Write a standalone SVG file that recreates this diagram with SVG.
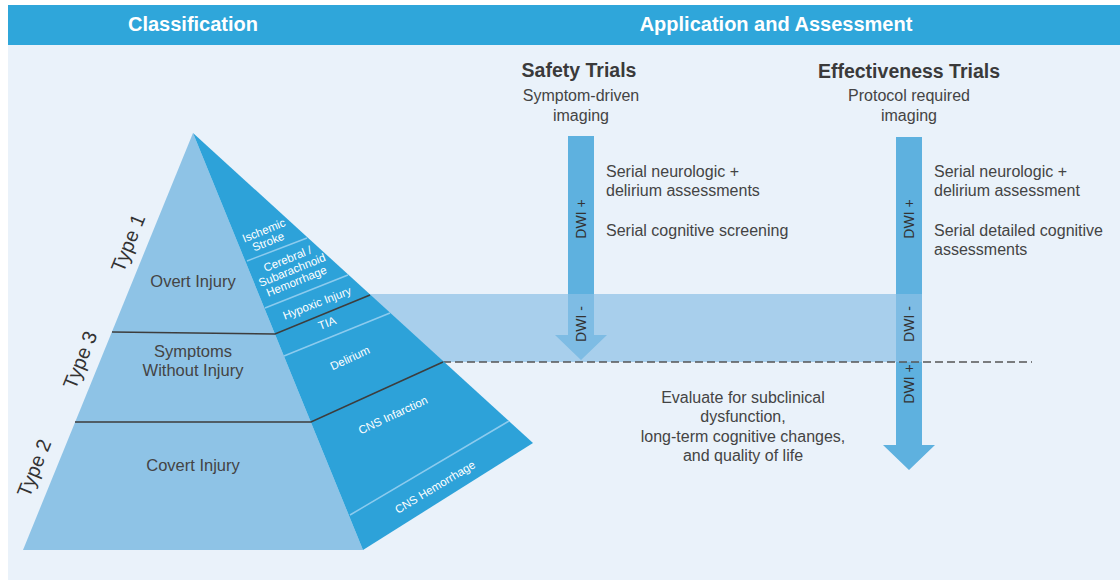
<svg xmlns="http://www.w3.org/2000/svg" width="1120" height="580" viewBox="0 0 1120 580">
  <style>
    .hdr { fill: #2fa6da; }
    .hdr-t { font-family: "Liberation Sans", Arial, sans-serif; font-weight: bold; font-size: 20px; fill: #ffffff; text-anchor: middle; }
    .title { font-family: "Liberation Sans", Arial, sans-serif; font-weight: bold; font-size: 19.5px; fill: #3a3a3a; text-anchor: middle; }
    .sub { font-family: "Liberation Sans", Arial, sans-serif; font-size: 16px; fill: #444444; text-anchor: middle; }
    .body { font-family: "Liberation Sans", Arial, sans-serif; font-size: 16px; fill: #444444; }
    .mid { text-anchor: middle; }
    .dwi { font-family: "Liberation Sans", Arial, sans-serif; font-size: 14px; fill: #333333; text-anchor: middle; }
    .tier { font-family: "Liberation Sans", Arial, sans-serif; font-size: 16.5px; fill: #444444; text-anchor: middle; }
    .type { font-family: "Liberation Sans", Arial, sans-serif; font-size: 20px; fill: #333333; text-anchor: middle; }
    .sub-t { font-family: "Liberation Sans", Arial, sans-serif; font-size: 11.5px; fill: #ffffff; text-anchor: middle; }
    .light-face { fill: #8ec3e6; }
    .dark-face { fill: #2da2d9; }
    .split-dark { stroke: #3d3d3d; stroke-width: 1.6; fill: none; }
    .split-light { stroke: #8ccbee; stroke-width: 1.5; fill: none; }
    .arrow { fill: #5eb1df; }
    .band { fill: rgb(140,193,230); fill-opacity: 0.7; }
    .dash { stroke: #555555; stroke-width: 1.5; stroke-dasharray: 8 4; fill: none; }
  </style>

  <!-- page background -->
  <rect x="0" y="0" width="1120" height="580" fill="#ffffff"/>
  <rect x="8" y="45" width="1112" height="535" fill="#eaf2fa"/>

  <!-- header bar -->
  <g id="header">
    <rect class="hdr" x="8" y="5" width="1112" height="40"/>
    <text class="hdr-t" x="193" y="31">Classification</text>
    <text class="hdr-t" x="776" y="31">Application and Assessment</text>
  </g>

  <!-- connectors: imaging arrows and DWI- band, threshold line -->
  <g id="connectors">
    <polygon id="safety-arrow" class="arrow" points="568,136 594,136 594,335 607,335 581,360 555,335 568,335"/>
    <polygon id="effectiveness-arrow" class="arrow" points="896,137 922,137 922,445 935,445 909,470 883,445 896,445"/>
    <rect id="dwi-negative-band" class="band" x="350" y="294" width="572" height="68"/>
    <line id="threshold" class="dash" x1="443" y1="362" x2="1032" y2="362"/>
  </g>

  <!-- classification pyramid -->
  <g id="pyramid">
    <polygon class="light-face" points="193,133 23,550 363,550"/>
    <polygon class="dark-face" points="193,133 363,550 533,443"/>
    <!-- tier boundaries -->
    <polyline class="split-dark" points="112,332 275,334 370,295"/>
    <polyline class="split-dark" points="75,422 311,422 443,362"/>
    <!-- subtype boundaries on the side face -->
    <line class="split-light" x1="247" y1="261" x2="307" y2="238"/>
    <line class="split-light" x1="265" y1="308" x2="348" y2="275"/>
    <line class="split-light" x1="284" y1="356" x2="390" y2="313"/>
    <line class="split-light" x1="350" y1="515" x2="509" y2="421"/>
  </g>

  <g id="tier-overt">
    <text class="tier" x="193" y="287">Overt Injury</text>
    <text class="type" transform="translate(128,243) rotate(-68)" y="7">Type 1</text>
  </g>
  <g id="tier-symptoms">
    <text class="tier" x="193" y="357">Symptoms</text>
    <text class="tier" x="193" y="376">Without Injury</text>
    <text class="type" transform="translate(80,360) rotate(-68)" y="7">Type 3</text>
  </g>
  <g id="tier-covert">
    <text class="tier" x="193" y="471">Covert Injury</text>
    <text class="type" transform="translate(34,468) rotate(-68)" y="7">Type 2</text>
  </g>

  <g id="subtypes">
    <g transform="translate(266,236) rotate(-22)">
      <text class="sub-t" y="-2">Ischemic</text>
      <text class="sub-t" y="10">Stroke</text>
    </g>
    <g transform="translate(292,270) rotate(-22)">
      <text class="sub-t" y="-8">Cerebral /</text>
      <text class="sub-t" y="4">Subarachnoid</text>
      <text class="sub-t" y="16">Hemorrhage</text>
    </g>
    <text class="sub-t" transform="translate(317,303) rotate(-21)" y="4">Hypoxic Injury</text>
    <text class="sub-t" transform="translate(327,323) rotate(-21)" y="4">TIA</text>
    <text class="sub-t" transform="translate(350,358) rotate(-25)" y="4">Delirium</text>
    <text class="sub-t" transform="translate(393,415) rotate(-25)" y="4">CNS Infarction</text>
    <text class="sub-t" transform="translate(435,487) rotate(-31)" y="4">CNS Hemorrhage</text>
  </g>

  <!-- safety trials column -->
  <g id="safety-trials">
    <text class="title" x="579" y="77">Safety Trials</text>
    <text class="sub" x="581" y="101">Symptom-driven</text>
    <text class="sub" x="581" y="121">imaging</text>
    <text class="body" x="606" y="177">Serial neurologic +</text>
    <text class="body" x="606" y="196">delirium assessments</text>
    <text class="body" x="606" y="236">Serial cognitive screening</text>
    <text class="dwi" transform="translate(581,219) rotate(-90)" y="5">DWI +</text>
    <text class="dwi" transform="translate(581,324) rotate(-90)" y="5">DWI -</text>
  </g>

  <!-- effectiveness trials column -->
  <g id="effectiveness-trials">
    <text class="title" x="909" y="78">Effectiveness Trials</text>
    <text class="sub" x="909" y="101">Protocol required</text>
    <text class="sub" x="909" y="121">imaging</text>
    <text class="body" x="934" y="177">Serial neurologic +</text>
    <text class="body" x="934" y="196">delirium assessment</text>
    <text class="body" x="934" y="236">Serial detailed cognitive</text>
    <text class="body" x="934" y="255">assessments</text>
    <text class="dwi" transform="translate(909,219) rotate(-90)" y="5">DWI +</text>
    <text class="dwi" transform="translate(909,324) rotate(-90)" y="5">DWI -</text>
    <text class="dwi" transform="translate(909,384) rotate(-90)" y="5">DWI +</text>
  </g>

  <!-- follow-up evaluation -->
  <g id="evaluation">
    <text class="body mid" x="743" y="403">Evaluate for subclinical</text>
    <text class="body mid" x="743" y="422">dysfunction,</text>
    <text class="body mid" x="743" y="442">long-term cognitive changes,</text>
    <text class="body mid" x="743" y="461">and quality of life</text>
  </g>
</svg>
